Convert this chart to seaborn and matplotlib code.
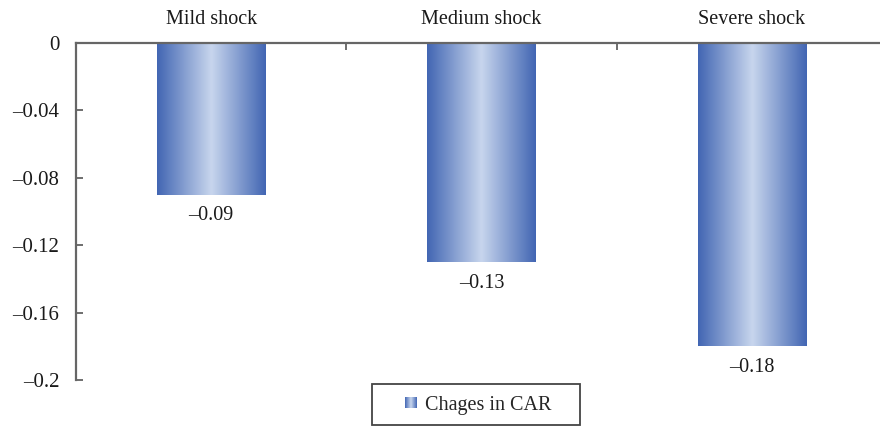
import numpy as np
import pandas as pd
import matplotlib
matplotlib.use("Agg")
import matplotlib.pyplot as plt
import seaborn as sns
from matplotlib.colors import LinearSegmentedColormap
from matplotlib.patches import Rectangle
from matplotlib.legend_handler import HandlerBase

# data
categories = ["Mild shock", "Medium shock", "Severe shock"]
car_change = [-0.09, -0.13, -0.18]
value_labels = ["\u20130.09", "\u20130.13", "\u20130.18"]
y_ticks = [0, -0.04, -0.08, -0.12, -0.16, -0.2]
y_tick_labels = ["0", "\u20130.04", "\u20130.08", "\u20130.12", "\u20130.16", "\u20130.2"]
series_name = "Chages in CAR"

sns.set_style("white")
plt.rcParams["font.family"] = ["Liberation Serif", "DejaVu Serif"]

edge_col = "#4266b3"
mid_col = "#c7d5ed"
grad_cmap = LinearSegmentedColormap.from_list("bar_grad", [edge_col, mid_col])
t = np.linspace(0, 1, 256)
grad = (1 - np.abs(2 * t - 1)).reshape(1, -1)

df = pd.DataFrame({"category": categories, "value": car_change})

fig = plt.figure(figsize=(8.8, 4.28), dpi=100)
ax = fig.add_axes([76 / 880, 1 - 380 / 428, 811 / 880, 337 / 428])

sns.barplot(data=df, x="category", y="value", width=0.4, color=edge_col,
            ax=ax, saturation=1)

# gradient fill inside each bar
for patch in ax.patches:
    x0, y0 = patch.get_x(), patch.get_y()
    w, h = patch.get_width(), patch.get_height()
    im = ax.imshow(grad, cmap=grad_cmap, aspect="auto", interpolation="bilinear",
                   extent=[x0, x0 + w, y0 + h, y0], zorder=patch.get_zorder() + 0.1)
    im.set_clip_path(patch)

ax.set_xlim(-0.5, 2.5)
ax.set_ylim(-0.2, 0)

for i, (v, lab) in enumerate(zip(car_change, value_labels)):
    ax.annotate(lab, xy=(i, v), xytext=(0, -8.5), textcoords="offset points",
                ha="center", va="top", fontsize=14.5, color="#1a1a1a")

# axes styling
ax.xaxis.tick_top()
ax.set_xticks(range(len(categories)))
ax.set_xticklabels(categories, fontsize=14.5, color="#1a1a1a")
ax.set_xticks([0.5, 1.5], minor=True)
ax.tick_params(axis="x", which="major", length=0, pad=10)
ax.tick_params(axis="x", which="minor", direction="in", length=5, width=1.2,
               color="#555555", top=True)
ax.set_yticks(y_ticks)
ax.set_yticklabels(y_tick_labels, fontsize=15, color="#1a1a1a")
ax.tick_params(axis="y", direction="in", length=5, width=1.2, color="#555555",
               pad=12, left=True)
ax.set_xlabel("")
ax.set_ylabel("")
for side in ["right", "bottom"]:
    ax.spines[side].set_visible(False)
for side in ["left", "top"]:
    ax.spines[side].set_color("#666666")
    ax.spines[side].set_linewidth(1.6)


class GradientHandler(HandlerBase):
    def create_artists(self, legend, orig_handle, xdescent, ydescent,
                       width, height, fontsize, trans):
        n = 12
        size = height * 0.85
        x_start = width - size
        arts = []
        for k in range(n):
            val = 1 - abs(2 * (k + 0.5) / n - 1)
            r = Rectangle((x_start - xdescent + k * size / n, -ydescent + (height - size) / 2),
                          size / n, size, facecolor=grad_cmap(val), edgecolor="none",
                          transform=trans)
            arts.append(r)
        return arts


handle = Rectangle((0, 0), 1, 1)
fig.legend([handle], [series_name], handler_map={Rectangle: GradientHandler()},
           loc="center", bbox_to_anchor=(468 / 880, 1 - 405 / 428), frameon=False,
           fontsize=14.5, handlelength=1.6, handletextpad=0.4)

fig.patches.append(Rectangle((372 / 880, 1 - 425 / 428), 208 / 880, 41 / 428,
                             transform=fig.transFigure, fill=False,
                             edgecolor="#444444", linewidth=1.3))

fig.savefig("out.png", dpi=100)
